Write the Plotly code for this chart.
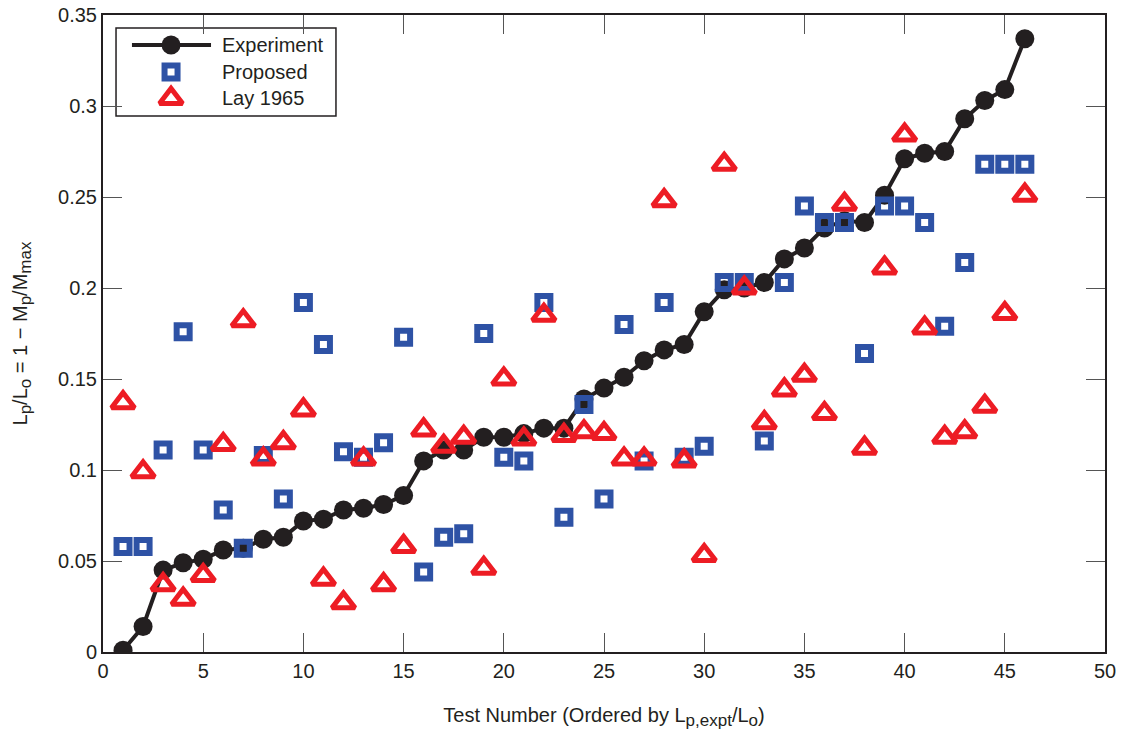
import plotly.graph_objects as go

# Test numbers, ordered by measured plastic-hinge length ratio
tests = list(range(1, 47))

experiment = [0.001, 0.014, 0.045, 0.049, 0.051, 0.056, 0.057, 0.062, 0.063, 0.072,
              0.073, 0.078, 0.079, 0.081, 0.086, 0.105, 0.111, 0.111, 0.118, 0.118,
              0.120, 0.123, 0.123, 0.139, 0.145, 0.151, 0.160, 0.166, 0.169, 0.187,
              0.199, 0.200, 0.203, 0.216, 0.222, 0.233, 0.237, 0.236, 0.251, 0.271,
              0.274, 0.275, 0.293, 0.303, 0.309, 0.337]

proposed = [0.058, 0.058, 0.111, 0.176, 0.111, 0.078, 0.057, 0.108, 0.084, 0.192,
            0.169, 0.110, 0.107, 0.115, 0.173, 0.044, 0.063, 0.065, 0.175, 0.107,
            0.105, 0.192, 0.074, 0.136, 0.084, 0.180, 0.105, 0.192, 0.107, 0.113,
            0.203, 0.203, 0.116, 0.203, 0.245, 0.236, 0.236, 0.164, 0.245, 0.245,
            0.236, 0.179, 0.214, 0.268, 0.268, 0.268]

lay1965 = [0.137, 0.099, 0.037, 0.029, 0.042, 0.114, 0.182, 0.106, 0.115, 0.133,
           0.040, 0.027, 0.106, 0.037, 0.058, 0.122, 0.113, 0.118, 0.046, 0.150,
           0.117, 0.185, 0.119, 0.121, 0.120, 0.106, 0.106, 0.248, 0.105, 0.053,
           0.268, 0.200, 0.126, 0.144, 0.152, 0.131, 0.246, 0.112, 0.211, 0.284,
           0.178, 0.118, 0.121, 0.135, 0.186, 0.251]

x_ticks = [0, 5, 10, 15, 20, 25, 30, 35, 40, 45, 50]
x_tick_text = ["0", "5", "10", "15", "20", "25", "30", "35", "40", "45", "50"]
y_ticks = [0, 0.05, 0.1, 0.15, 0.2, 0.25, 0.3, 0.35]
y_tick_text = ["0", "0.05", "0.1", "0.15", "0.2", "0.25", "0.3", "0.35"]

legend_names = ["Experiment", "Proposed", "Lay 1965"]

INK = "#231f20"
BLUE = "#2e52a5"
RED = "#ed1c24"
FONT = "Liberation Sans, Arial, sans-serif"


def sub(s):
    # subscript slightly larger than plotly's default 70%
    return f'<sub><span style="font-size:17px">{s}</span></sub>'


x_title = f"Test Number (Ordered by L{sub('p,expt')}/L{sub('o')})"
y_title = f"L{sub('p')}/L{sub('o')} = 1 \u2212 M{sub('p')}/M{sub('max')}"

circle_marker = dict(symbol="circle", size=19, color=INK)
square_marker = dict(symbol="square-open", size=13, color=BLUE, line=dict(width=6, color=BLUE))
triangle_marker = dict(symbol="triangle-up-open", size=20, color=RED, line=dict(width=5, color=RED))

fig = go.Figure()

fig.add_trace(go.Scatter(
    x=tests, y=experiment, mode="lines+markers", name=legend_names[0],
    line=dict(color=INK, width=4), marker=circle_marker, showlegend=False,
))
fig.add_trace(go.Scatter(
    x=tests, y=proposed, mode="markers", name=legend_names[1],
    marker=square_marker, showlegend=False,
))
fig.add_trace(go.Scatter(
    x=tests, y=lay1965, mode="markers", name=legend_names[2],
    marker=triangle_marker, showlegend=False,
))

# Legend drawn on an overlay axis spanning the plot area in 0..1 units
LX0, LX1 = 0.013, 0.2325
LY0, LY1 = 0.8414, 0.9796
sym_x = 0.0679
line_x = [0.0289, 0.0679, 0.1078]
row_y = [0.953, 0.9105, 0.869]
text_x = 0.1168

fig.add_shape(type="rect", xref="paper", yref="paper", x0=LX0, x1=LX1, y0=LY0, y1=LY1,
              line=dict(color=INK, width=1.5), fillcolor="white", layer="below")

fig.add_trace(go.Scatter(
    x=line_x, y=[row_y[0]] * 3, xaxis="x2", yaxis="y2", mode="lines",
    line=dict(color=INK, width=4), showlegend=False, hoverinfo="skip",
))
for marker, yy in zip([circle_marker, square_marker, triangle_marker], row_y):
    fig.add_trace(go.Scatter(
        x=[sym_x], y=[yy], xaxis="x2", yaxis="y2", mode="markers",
        marker=marker, showlegend=False, hoverinfo="skip",
    ))
for name, yy in zip(legend_names, row_y):
    fig.add_annotation(x=text_x, y=yy, xref="x2", yref="y2", text=name, showarrow=False,
                       xanchor="left", yanchor="middle",
                       font=dict(family=FONT, size=20, color=INK))

axis_common = dict(
    showline=True, linecolor=INK, linewidth=2, mirror="ticks",
    ticks="inside", ticklen=19, tickwidth=1, tickcolor="#555555",
    showgrid=False, zeroline=False, automargin=False,
    tickfont=dict(family=FONT, size=20, color=INK),
)

fig.update_layout(
    width=1122, height=738,
    margin=dict(l=103, r=17, t=15, b=86),
    paper_bgcolor="white", plot_bgcolor="white",
    xaxis=dict(
        range=[0, 50], tickvals=x_ticks, ticktext=x_tick_text,
        title=dict(text=x_title, font=dict(family=FONT, size=20, color=INK), standoff=27),
        **axis_common,
    ),
    yaxis=dict(
        range=[0, 0.35], tickvals=y_ticks, ticktext=y_tick_text,
        title=dict(text=y_title, font=dict(family=FONT, size=20, color=INK), standoff=25),
        **axis_common,
    ),
    xaxis2=dict(range=[0, 1], overlaying="x", anchor="y2", visible=False, fixedrange=True),
    yaxis2=dict(range=[0, 1], overlaying="y", anchor="x2", visible=False, fixedrange=True),
    showlegend=False,
)

fig.write_html("out.html")
